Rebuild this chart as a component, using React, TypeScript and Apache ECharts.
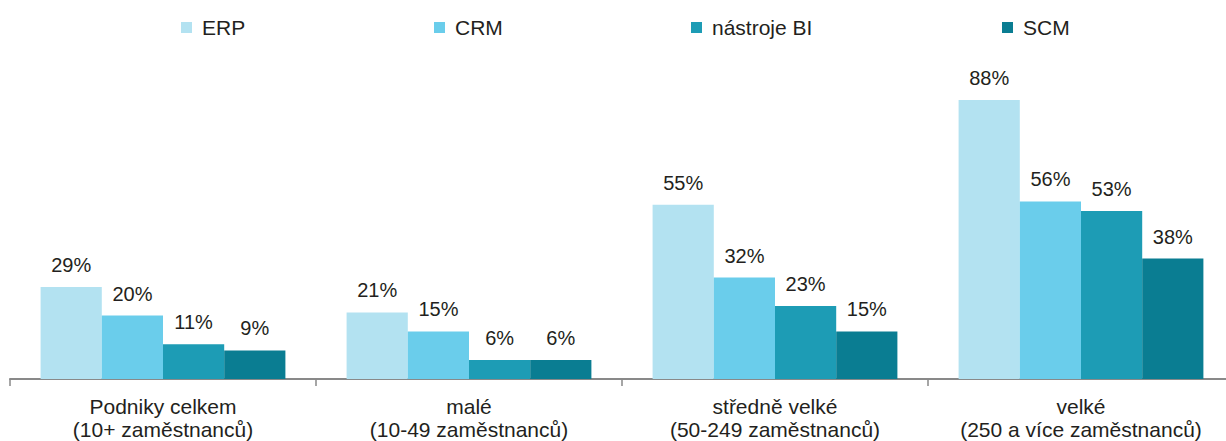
import React, { useEffect, useRef } from "react";
import * as echarts from "echarts";

const categories = [
  "Podniky celkem\n(10+ zaměstnanců)",
  "malé\n(10-49 zaměstnanců)",
  "středně velké\n(50-249 zaměstnanců)",
  "velké\n(250 a více zaměstnanců)",
];
const seriesNames = ["ERP", "CRM", "nástroje BI", "SCM"];
const erp = [29, 21, 55, 88];
const crm = [20, 15, 32, 56];
const bi = [11, 6, 23, 53];
const scm = [9, 6, 15, 38];
const colors = ["#b3e2f1", "#6acdeb", "#1d9cb5", "#0a7d92"];
const legendLefts = [181, 434, 691, 1002];

const FONT = "Liberation Sans, Arial, sans-serif";
const TEXT = "#231f20";

export default function App() {
  const ref = useRef<HTMLDivElement>(null);
  useEffect(() => {
    document.body.style.margin = "0";
    const chart = echarts.init(ref.current!, null, { renderer: "svg" });
    const values = [erp, crm, bi, scm];
    chart.setOption({
      animation: false,
      textStyle: { fontFamily: FONT },
      legend: seriesNames.map((n, i) => ({
        data: [n],
        left: legendLefts[i],
        top: 17,
        itemWidth: 11,
        itemHeight: 11,
        itemGap: 11,
        icon: "rect",
        textStyle: { fontSize: 21, color: TEXT, fontFamily: FONT, padding: [0, 0, 0, 5] },
        padding: 0,
      })),
      grid: { left: 10, right: 0, top: 62, bottom: 62, containLabel: false },
      xAxis: {
        type: "category",
        data: categories,
        axisLine: { lineStyle: { color: "#898989", width: 2 } },
        axisTick: { show: true, length: 7, interval: 0, lineStyle: { color: "#898989", width: 1.5 } },
        axisLabel: {
          interval: 0,
          fontSize: 21,
          lineHeight: 23,
          margin: 16,
          color: TEXT,
          fontFamily: FONT,
        },
      },
      yAxis: {
        type: "value",
        min: 0,
        max: 100,
        show: false,
        splitLine: { show: false },
      },
      series: seriesNames.map((n, i) => ({
        name: n,
        type: "bar",
        data: values[i],
        barGap: "0%",
        barCategoryGap: "20%",
        itemStyle: { color: colors[i] },
        label: {
          show: true,
          position: "top",
          distance: 12,
          formatter: "{c}%",
          fontSize: 20,
          color: TEXT,
          fontFamily: FONT,
        },
      })),
    });
    return () => chart.dispose();
  }, []);
  return (
    <div style={{ width: 1226, height: 441, overflow: "hidden", position: "relative" }}>
      <div ref={ref} style={{ width: 1234, height: 441 }} />
    </div>
  );
}
